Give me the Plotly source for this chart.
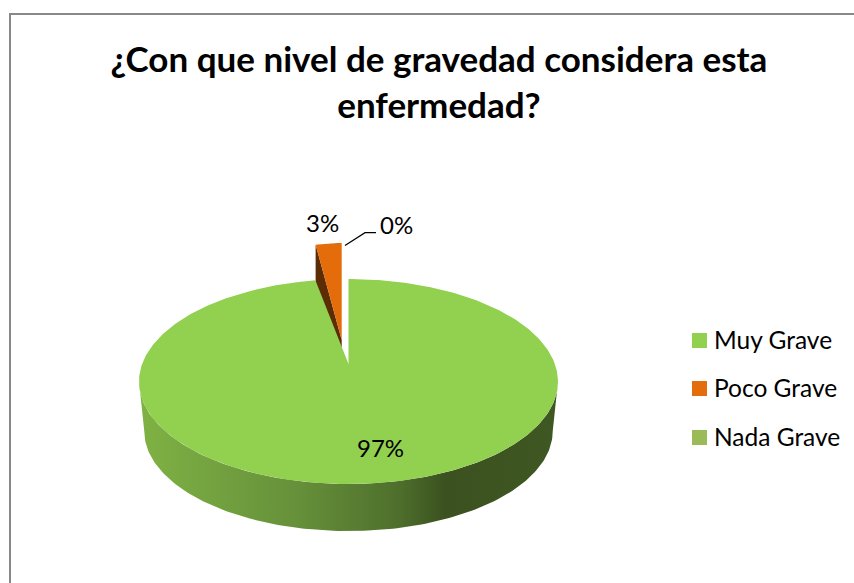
# Import dependencies
import numpy as np
import plotly.graph_objects as go

# Chart values
categories = ['Muy Grave', 'Poco Grave', 'Nada Grave']
values = [97, 3, 0]
colors = ['#92D050', '#E46C0A', '#9BBB59']
title_text = '¿Con que nivel de gravedad considera esta<br>enfermedad?'

FONT = 'Lato, Carlito, Calibri, sans-serif'

# Pie geometry in page pixels (the axes below run 1:1 with the page)
APEX_X, APEX_Y = 348.5, 364
SCALE_X, SCALE_Y = 206.4, 99.5
PERSPECTIVE = 0.171
DEPTH = 50
BASE_SHRINK = 0.975

# Project a point of the unit circle, 0 degrees at the back, clockwise
def project(theta, drop=0, scale=1.0):
    ground_x = np.sin(theta)
    ground_y = np.cos(theta)
    denom = 1 + PERSPECTIVE * ground_y
    return (APEX_X + scale * SCALE_X * ground_x / denom,
            APEX_Y + drop - scale * SCALE_Y * ground_y / denom)

shares = np.array(values) / sum(values)
big_sweep = 2 * np.pi * shares[0]
small_sweep = 2 * np.pi * shares[1]

fig = go.Figure()

# Exploded small slice: side face first, then its top
tip_x, tip_y = 341.7, 340
arc = np.linspace(-small_sweep, 0, 12)
arc_x = tip_x + 139 * np.sin(arc)
arc_y = tip_y - 97 * np.cos(arc)
fig.add_trace(go.Scatter(x=[tip_x, arc_x[0], arc_x[0], tip_x],
                         y=[tip_y, arc_y[0], arc_y[0] + DEPTH, tip_y + DEPTH],
                         mode='lines', fill='toself', fillcolor='#5C2D05',
                         line=dict(width=0), hoverinfo='skip'))
fig.add_trace(go.Scatter(x=np.r_[tip_x, arc_x], y=np.r_[tip_y, arc_y],
                         mode='lines', fill='toself', fillcolor=colors[1],
                         line=dict(width=0), hoverinfo='skip'))

# Side wall of the big slice, between the two points where the rim is widest
widest = np.arccos(-PERSPECTIVE)
wall = np.linspace(widest, 2 * np.pi - widest, 160)
top_x, top_y = project(wall)
low_x, low_y = project(wall, DEPTH, BASE_SHRINK)
fig.add_trace(go.Scatter(x=np.r_[top_x, low_x[::-1]], y=np.r_[top_y, low_y[::-1]],
                         mode='lines', fill='toself', line=dict(width=0), hoverinfo='skip',
                         fillgradient=dict(type='horizontal',
                                           colorscale=[[0, '#7FB244'], [0.38, '#66903A'],
                                                       [0.62, '#4E6F2C'], [0.73, '#3B5220'],
                                                       [1, '#3F5722']])))

# Top of the big slice
rim = np.linspace(0, big_sweep, 360)
rim_x, rim_y = project(rim)
fig.add_trace(go.Scatter(x=np.r_[APEX_X, rim_x], y=np.r_[APEX_Y, rim_y],
                         mode='lines', fill='toself', fillcolor=colors[0],
                         line=dict(width=0), hoverinfo='skip'))

# Leader line of the 0% label
fig.add_trace(go.Scatter(x=[345, 365, 376], y=[245.5, 232.7, 232.7], mode='lines',
                         line=dict(color='#000000', width=1.2), hoverinfo='skip'))

# Data labels
label_pos = [(380, 447), (322, 222), (396, 224)]
for val, pos in zip(values, label_pos):
    fig.add_annotation(x=pos[0], y=pos[1], text=f'{round(val / sum(values) * 100)}%',
                       showarrow=False, font=dict(family=FONT, size=24, color='#000000'))

# Legend
legend_y = [340.5, 388.5, 437.5]
fig.add_trace(go.Scatter(x=[699.5] * 3, y=legend_y, mode='markers', hoverinfo='skip',
                         marker=dict(symbol='square', size=15, color=colors, line=dict(width=0))))
for name, y in zip(categories, legend_y):
    fig.add_annotation(x=712, y=y - 1, text=name, showarrow=False, xanchor='left',
                       font=dict(family=FONT, size=24.5, color='#000000'))

# Chart frame
fig.add_shape(type='rect', x0=10, y0=14, x1=860, y1=600,
              line=dict(color='#888888', width=2), fillcolor='rgba(0,0,0,0)', layer='below')

fig.update_layout(width=854, height=583,
                  margin=dict(l=0, r=0, t=0, b=0),
                  paper_bgcolor='#FFFFFF', plot_bgcolor='#FFFFFF',
                  showlegend=False,
                  title=dict(text=title_text, x=0.514, xanchor='center', y=0.876, yanchor='middle',
                             font=dict(family=FONT, size=35, color='#000000', weight='bold')),
                  xaxis=dict(range=[0, 854], visible=False, fixedrange=True),
                  yaxis=dict(range=[583, 0], visible=False, fixedrange=True))

# The page body has a default margin that would push the chart off the window
fig.write_html("out.html", config=dict(displayModeBar=False),
               post_script="document.body.style.margin = '0';")
